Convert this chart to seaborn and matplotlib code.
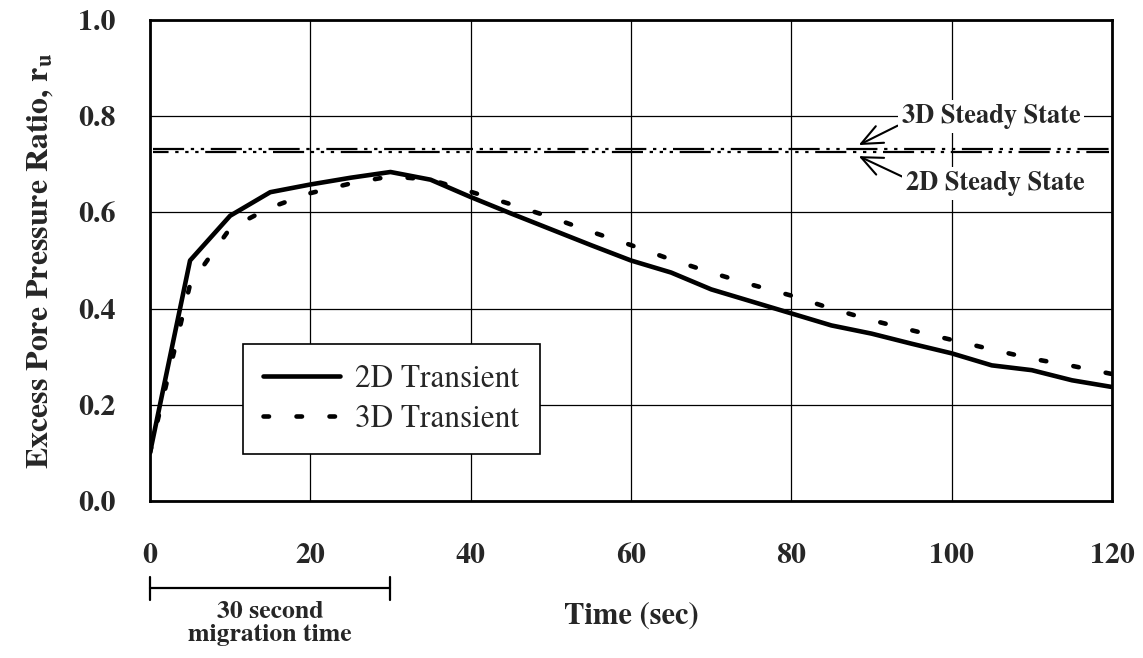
import matplotlib
matplotlib.use("Agg")
import matplotlib.pyplot as plt
import matplotlib.transforms as mtransforms
from matplotlib.lines import Line2D
import pandas as pd
import seaborn as sns

# Excess pore pressure ratio over time
time_s = [0, 5, 10, 15, 20, 25, 30, 35, 40, 45, 50, 55, 60,
          65, 70, 75, 80, 85, 90, 95, 100, 105, 110, 115, 120]
ru_2d_transient = [0.10, 0.50, 0.593, 0.642, 0.658, 0.672, 0.684, 0.668, 0.632, 0.598,
                   0.565, 0.532, 0.500, 0.475, 0.440, 0.415, 0.390, 0.365, 0.348,
                   0.327, 0.307, 0.282, 0.272, 0.251, 0.237]
ru_3d_transient = [0.10, 0.45, 0.567, 0.610, 0.640, 0.660, 0.675, 0.668, 0.643, 0.617,
                   0.590, 0.560, 0.532, 0.502, 0.475, 0.450, 0.427, 0.400, 0.376,
                   0.355, 0.335, 0.315, 0.296, 0.281, 0.264]
ru_3d_steady = 0.731
ru_2d_steady = 0.725

series_names = ["2D Transient", "3D Transient"]
x_ticks = [0, 20, 40, 60, 80, 100, 120]
y_ticks = [0.0, 0.2, 0.4, 0.6, 0.8, 1.0]

sns.set_style("white")
plt.rcParams["font.family"] = ["TeX Gyre Termes", "Liberation Serif", "DejaVu Serif"]
plt.rcParams["mathtext.fontset"] = "custom"
plt.rcParams["mathtext.rm"] = "TeX Gyre Termes:bold"
plt.rcParams["mathtext.it"] = "TeX Gyre Termes:bold"
plt.rcParams["mathtext.bf"] = "TeX Gyre Termes:bold"

df = pd.DataFrame({
    "Time": time_s * 2,
    "ru": ru_2d_transient + ru_3d_transient,
    "Series": [series_names[0]] * len(time_s) + [series_names[1]] * len(time_s),
})

fig = plt.figure(figsize=(11.43, 6.58), dpi=100)
ax = fig.add_axes([0.1312, 0.2386, 0.8417, 0.7310])

ax.set_xlim(0, 120)
ax.set_ylim(0, 1.0)

# grid
ax.set_xticks(x_ticks)
ax.set_yticks(y_ticks)
ax.grid(True, color="black", linewidth=0.9)
ax.set_axisbelow(True)

# steady-state lines
ax.hlines(ru_3d_steady, 0.4, 119.6, colors="black", linewidth=1.6,
          linestyles=[(0, (14, 3, 1.5, 3, 1.5, 3))], zorder=3)
ax.hlines(ru_2d_steady, 0.4, 119.6, colors="black", linewidth=1.6,
          linestyles=[(7, (14, 3, 1.5, 3, 1.5, 3, 1.5, 3))], zorder=3)

# transient curves
sns.lineplot(data=df, x="Time", y="ru", style="Series",
             dashes={series_names[0]: "", series_names[1]: (1.2, 6.0)},
             color="black", linewidth=3.3, legend=False, ax=ax, zorder=4)
for ln in ax.get_lines():
    ln.set_dash_capstyle("round")
    ln.set_solid_capstyle("butt")

for sp in ax.spines.values():
    sp.set_linewidth(2.0)
    sp.set_color("black")

ax.tick_params(axis="both", direction="out", length=13.5, width=1.8,
               color="black", labelsize=21.5)
ax.tick_params(axis="x", pad=17)
ax.tick_params(axis="y", pad=11)
ax.set_xticklabels([str(v) for v in x_ticks], fontweight="bold")
ax.set_yticklabels([f"{v:.1f}" for v in y_ticks], fontweight="bold")

ax.set_xlabel("Time (sec)", fontsize=22, fontweight="bold", labelpad=24)
ax.set_ylabel("Excess Pore Pressure Ratio, r$_{\\mathrm{u}}$", fontsize=23,
              fontweight="bold", labelpad=16)

# legend
handles = [
    Line2D([], [], color="black", linewidth=3.3, solid_capstyle="round"),
    Line2D([], [], color="black", linewidth=3.3, linestyle=(0, (1.2, 6.0)),
           dash_capstyle="round"),
]
leg = ax.legend(handles, series_names, loc="lower left",
                bbox_to_anchor=(0.0967, 0.0977), fontsize=22.5, frameon=True,
                fancybox=False, edgecolor="black", framealpha=1.0,
                handlelength=2.45, handletextpad=0.5, borderpad=0.65,
                labelspacing=0.32, borderaxespad=0.0)
leg.get_frame().set_linewidth(1.2)
leg.set_zorder(6)

# steady-state annotations
ax.annotate("3D Steady State", xy=(88.4, 0.740), xytext=(104.9, 0.800),
            fontsize=19, fontweight="bold", ha="center", va="center",
            bbox=dict(boxstyle="square,pad=0.15", fc="white", ec="none"),
            arrowprops=dict(arrowstyle="->,head_length=0.8,head_width=0.35",
                            color="black", lw=1.5, shrinkA=0, shrinkB=0,
                            relpos=(0.0, 0.2)),
            zorder=5)
ax.annotate("2D Steady State", xy=(88.4, 0.717), xytext=(105.5, 0.660),
            fontsize=19, fontweight="bold", ha="center", va="center",
            bbox=dict(boxstyle="square,pad=0.15", fc="white", ec="none"),
            arrowprops=dict(arrowstyle="->,head_length=0.8,head_width=0.35",
                            color="black", lw=1.5, shrinkA=0, shrinkB=0,
                            relpos=(0.0, 0.7)),
            zorder=5)

# migration-time bracket below the axis
trans = mtransforms.blended_transform_factory(ax.transData, ax.transAxes)
bracket_y = -0.181
ax.plot([0, 30], [bracket_y, bracket_y], color="black", lw=1.6,
        transform=trans, clip_on=False)
for xb in (0, 30):
    ax.plot([xb, xb], [-0.158, -0.206], color="black", lw=1.6,
            transform=trans, clip_on=False)
ax.text(15, -0.208, "30 second\nmigration time", transform=trans,
        ha="center", va="top", fontsize=18.5, fontweight="bold",
        linespacing=1.05)

fig.savefig("out.png", dpi=100)
